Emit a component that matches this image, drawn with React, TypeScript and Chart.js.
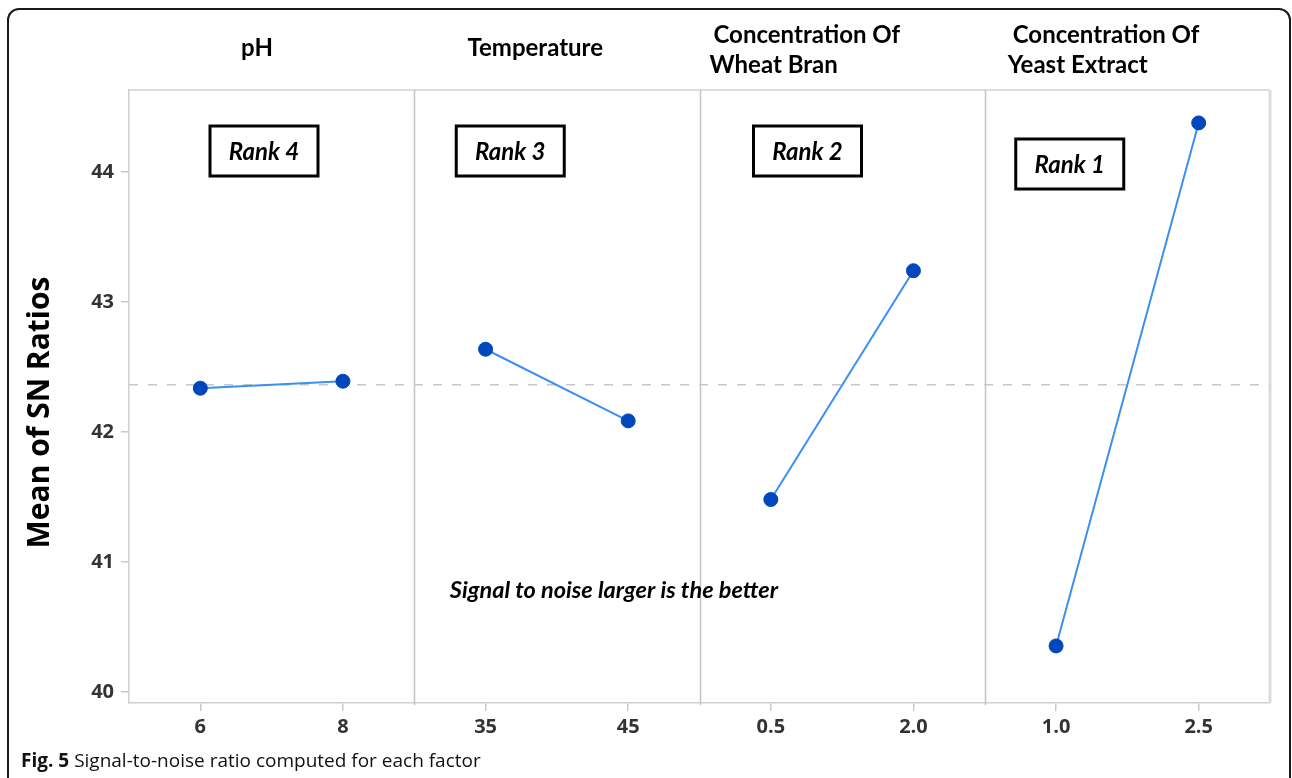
import React, { useEffect, useRef } from "react";
import { Chart, registerables } from "chart.js";

Chart.register(...registerables);

// ---------- data ----------
const factorTitles: string[][] = [
  ["pH"],
  ["Temperature"],
  ["Concentration Of", "Wheat Bran"],
  ["Concentration Of", "Yeast Extract"],
];
const levelLabels: string[][] = [
  ["6", "8"],
  ["35", "45"],
  ["0.5", "2.0"],
  ["1.0", "2.5"],
];
const phMeans = [42.336, 42.39];
const temperatureMeans = [42.636, 42.085];
const wheatBranMeans = [41.48, 43.24];
const yeastExtractMeans = [40.354, 44.377];
const seriesValues = [phMeans, temperatureMeans, wheatBranMeans, yeastExtractMeans];
const rankLabels = ["Rank 4", "Rank 3", "Rank 2", "Rank 1"];
const yTickValues = [40, 41, 42, 43, 44];
const yTitle = "Mean of SN Ratios";
const noteText = "Signal to noise larger is the better";
const captionBold = "Fig. 5";
const captionText = "Signal-to-noise ratio computed for each factor";

// ---------- derived ----------
const allValues = seriesValues.flat();
const grandMean = allValues.reduce((a, b) => a + b, 0) / allValues.length;
const levelPos = (i: number, j: number) => i + 0.25 + 0.5 * j;
const xTickPositions: number[] = [];
const xTickLabels: string[] = [];
levelLabels.forEach((lv, i) =>
  lv.forEach((l, j) => {
    xTickPositions.push(levelPos(i, j));
    xTickLabels.push(l);
  })
);

// ---------- layout (styles only) ----------
const TITLE_FONT = "bold 24px Lato";
const titleLayout = [
  { align: "center", dx: [128], dy: [-42] },
  { align: "center", dx: [121], dy: [-42] },
  { align: "left", dx: [14, 10], dy: [-55, -25] },
  { align: "left", dx: [28, 23], dy: [-55, -25] },
];
const rankLayout = [
  { dx: 81, dy: 36 },
  { dx: 42, dy: 36 },
  { dx: 54, dy: 36 },
  { dx: 31, dy: 49 },
];

const decorPlugin = {
  id: "decor",
  beforeDatasetsDraw(chart: any) {
    const { ctx, chartArea: a, scales } = chart;
    const x = scales.x;
    ctx.save();
    ctx.strokeStyle = "#d2d2d2";
    ctx.lineWidth = 1.5;
    ctx.beginPath();
    ctx.moveTo(a.left, a.top);
    ctx.lineTo(a.right, a.top);
    ctx.stroke();
    ctx.strokeStyle = "#dcdcdc";
    ctx.lineWidth = 3;
    ctx.beginPath();
    ctx.moveTo(a.right, a.top);
    ctx.lineTo(a.right, a.bottom);
    ctx.stroke();
    ctx.strokeStyle = "#c4c4c4";
    ctx.lineWidth = 1.5;
    for (let i = 1; i < seriesValues.length; i++) {
      const px = Math.round(x.getPixelForValue(i)) + 0.5;
      ctx.beginPath();
      ctx.moveTo(px, a.top);
      ctx.lineTo(px, a.bottom + 2);
      ctx.stroke();
    }
    ctx.restore();
  },
  afterDraw(chart: any) {
    const { ctx, chartArea: a, scales } = chart;
    const x = scales.x;
    const y = scales.y;
    ctx.save();
    ctx.fillStyle = "#000";
    ctx.textBaseline = "middle";
    ctx.font = TITLE_FONT;
    factorTitles.forEach((lines, i) => {
      const left = x.getPixelForValue(i);
      const lay = titleLayout[i];
      ctx.textAlign = lay.align;
      lines.forEach((t, k) => {
        ctx.fillText(t, left + lay.dx[k], a.top + lay.dy[k]);
      });
    });
    rankLabels.forEach((r, i) => {
      const left = x.getPixelForValue(i) + rankLayout[i].dx;
      const top = a.top + rankLayout[i].dy;
      const w = 108;
      const h = 50;
      ctx.fillStyle = "#fff";
      ctx.fillRect(left, top, w, h);
      ctx.strokeStyle = "#000";
      ctx.lineWidth = 3;
      ctx.strokeRect(left, top, w, h);
      ctx.fillStyle = "#000";
      ctx.font = "italic bold 24px Lato";
      ctx.textAlign = "center";
      ctx.fillText(r, left + w / 2, top + h / 2 + 1);
    });
    ctx.font = "italic bold 23.5px Lato";
    ctx.textAlign = "center";
    ctx.fillText(noteText, x.getPixelForValue(1.7), y.getPixelForValue(40.78));
    ctx.translate(40, (a.top + a.bottom) / 2 + 16);
    ctx.rotate(-Math.PI / 2);
    ctx.font = "bold 30px 'Open Sans'";
    ctx.textAlign = "center";
    ctx.fillText(yTitle, 0, 0);
    ctx.restore();
  },
};

export default function App() {
  const ref = useRef<HTMLCanvasElement>(null);
  useEffect(() => {
    if (!ref.current) return;
    const datasets: any[] = seriesValues.map((vals, i) => ({
      label: factorTitles[i].join(" "),
      data: vals.map((v, j) => ({ x: levelPos(i, j), y: v })),
      borderColor: "#3b8ff0",
      borderWidth: 2,
      pointRadius: 7,
      pointBackgroundColor: "#0047bb",
      pointBorderColor: "#0047bb",
      pointBorderWidth: 1,
      showLine: true,
      order: 0,
    }));
    datasets.push({
      label: "Mean",
      data: [
        { x: 0, y: grandMean },
        { x: seriesValues.length, y: grandMean },
      ],
      borderColor: "#c8c8c8",
      borderWidth: 1.5,
      borderDash: [9, 10],
      pointRadius: 0,
      showLine: true,
      order: 10,
    });
    const tickFont = { family: "'Open Sans', sans-serif", size: 20, weight: "bold" };
    const chart = new Chart(ref.current, {
      type: "scatter",
      data: { datasets },
      plugins: [decorPlugin],
      options: {
        animation: false,
        responsive: false,
        devicePixelRatio: 1,
        layout: { padding: { top: 90, right: 22, left: 0, bottom: 0 } },
        plugins: { legend: { display: false }, tooltip: { enabled: false } },
        scales: {
          x: {
            type: "linear",
            min: 0,
            max: seriesValues.length,
            afterBuildTicks: (s: any) => {
              s.ticks = xTickPositions.map((v) => ({ value: v }));
            },
            afterFit: (s: any) => {
              s.height = 75;
            },
            ticks: {
              callback: (_v: any, idx: number) => xTickLabels[idx],
              color: "#333",
              font: tickFont,
              padding: 4,
              maxRotation: 0,
              autoSkip: false,
            },
            grid: { drawOnChartArea: false, tickLength: 8, color: "#c8c8c8", lineWidth: 1.5 },
            border: { color: "#cfcfcf", width: 1.5 },
          },
          y: {
            type: "linear",
            min: 39.915,
            max: 44.63,
            afterBuildTicks: (s: any) => {
              s.ticks = yTickValues.map((v) => ({ value: v }));
            },
            afterFit: (s: any) => {
              s.width = 129;
            },
            ticks: {
              color: "#333",
              font: tickFont,
              padding: 7,
            },
            grid: { drawOnChartArea: false, tickLength: 8, color: "#c8c8c8", lineWidth: 1.5 },
            border: { color: "#cfcfcf", width: 1.5 },
          },
        },
      } as any,
    });
    return () => chart.destroy();
  }, []);

  return (
    <div style={{ position: "absolute", left: 0, top: 0, width: 1292, height: 778, overflow: "hidden", background: "#fff" }}>
      <div
        style={{
          position: "absolute",
          left: 7,
          top: 8,
          width: 1284,
          height: 820,
          border: "2px solid #1a1a1a",
          borderRadius: 12,
          boxSizing: "border-box",
        }}
      />
      <canvas ref={ref} width={1292} height={778} style={{ position: "absolute", left: 0, top: 0 }} />
      <div
        style={{
          position: "absolute",
          left: 21,
          top: 748,
          fontFamily: "'Open Sans'",
          fontSize: 19,
          lineHeight: "24px",
          color: "#111",
          whiteSpace: "nowrap",
        }}
      >
        <b>{captionBold}</b> {captionText}
      </div>
    </div>
  );
}
